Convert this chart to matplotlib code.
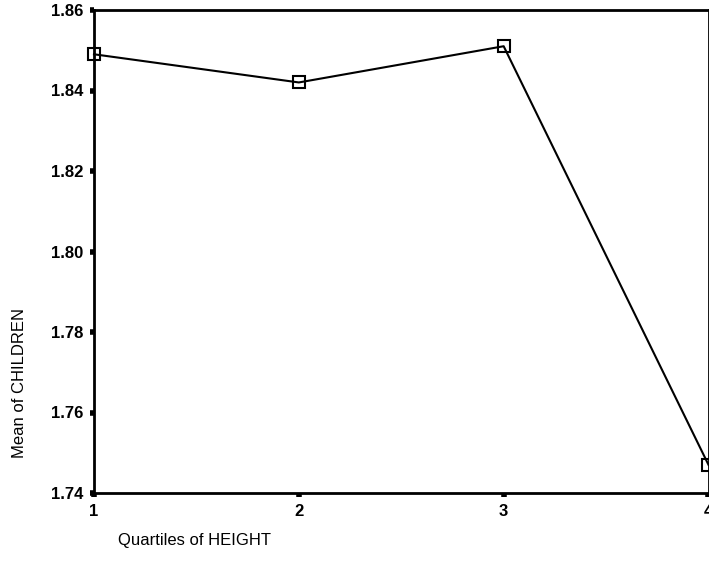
import numpy as np
import matplotlib as mpl
mpl.use('Agg')
import matplotlib.pyplot as plt

mpl.rcParams['font.family'] = ['Liberation Sans', 'DejaVu Sans']

quartiles = [1, 2, 3, 4]
mean_children = [1.849, 1.842, 1.851, 1.747]
yticks = [1.74, 1.76, 1.78, 1.80, 1.82, 1.84, 1.86]

fig = plt.figure(figsize=(7.09, 5.78), dpi=100)
ax = fig.add_axes([94/709, 1 - 493/578, (708.5 - 94)/709, (493 - 10)/578])

ax.plot(quartiles, mean_children, color='black', lw=1.5, marker='s',
        markersize=8, markerfacecolor='none', markeredgewidth=1.5,
        clip_on=False, zorder=3)

ax.set_xlim(1, 4)
ax.set_ylim(1.74, 1.86)
ax.set_xticks(quartiles)
ax.set_yticks(yticks)
ax.set_xticklabels([str(q) for q in quartiles])
ax.set_yticklabels(['%.2f' % v for v in yticks])

for sp in ax.spines.values():
    sp.set_linewidth(2)
    sp.set_color('black')

ax.tick_params(axis='both', direction='out', length=3, width=4,
               labelsize=12, pad=5)
for lbl in ax.get_xticklabels() + ax.get_yticklabels():
    lbl.set_fontweight('bold')

fig.text(20/709, 1 - 383/578, 'Mean of CHILDREN', rotation=90,
         ha='center', va='center', fontsize=12)
fig.text(118/709, 1 - 541/578, 'Quartiles of HEIGHT',
         ha='left', va='center', fontsize=12)

fig.savefig('out.png', dpi=100)
